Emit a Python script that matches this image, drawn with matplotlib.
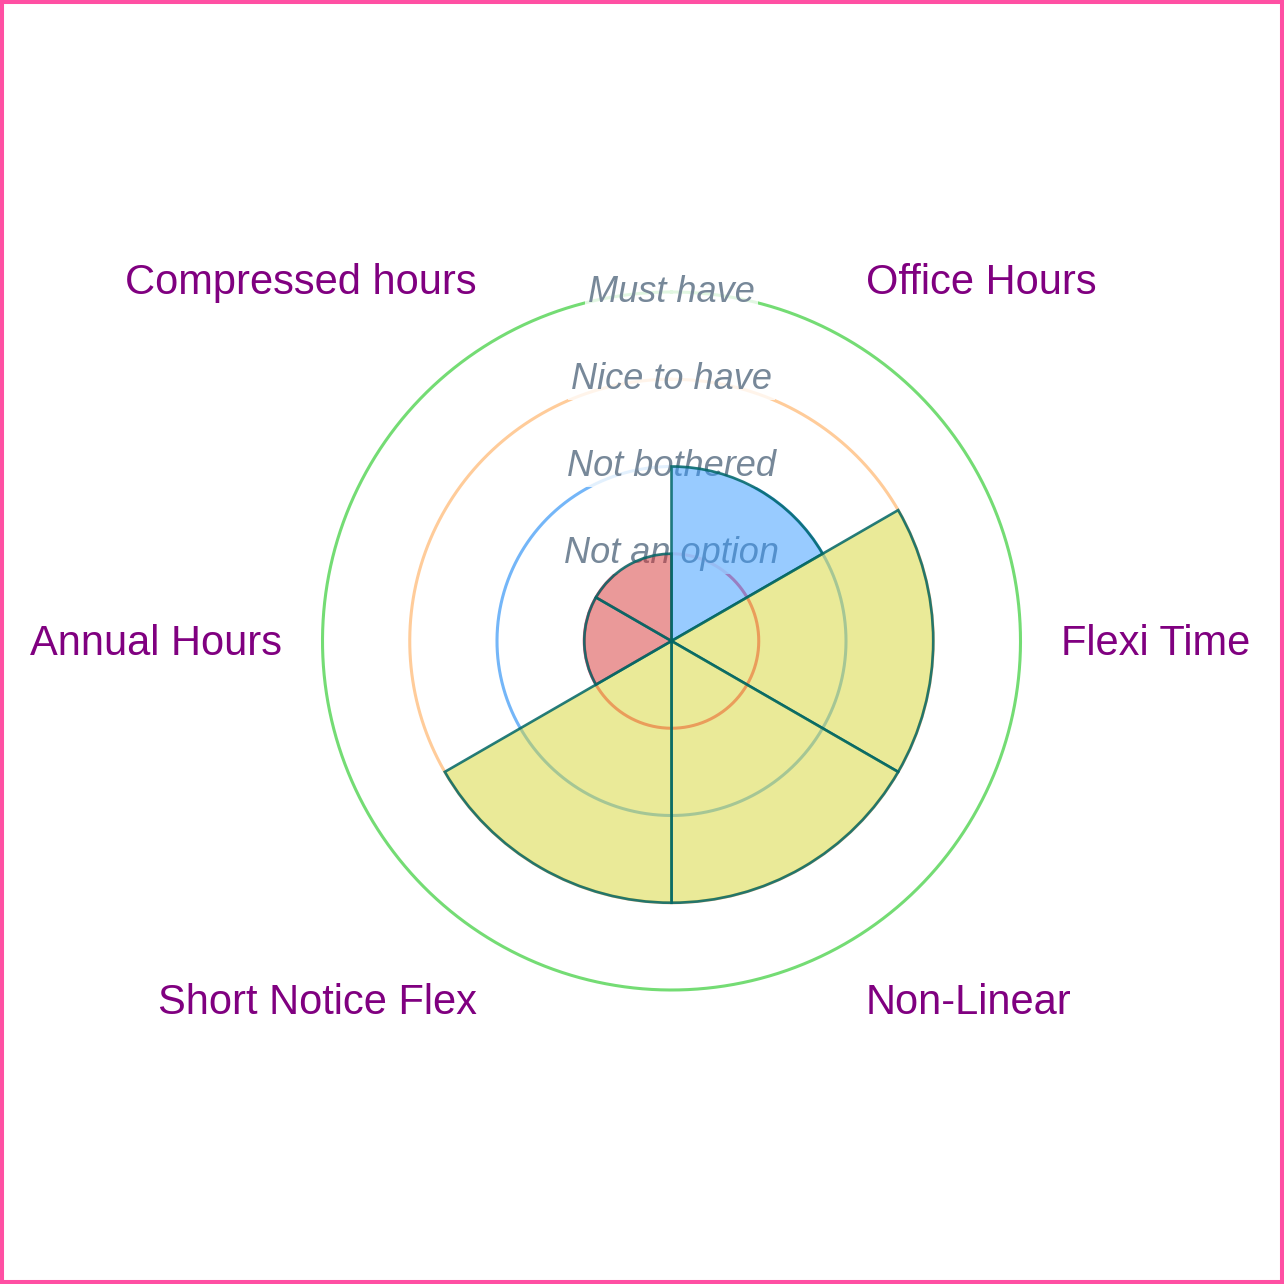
import numpy as np
import matplotlib
matplotlib.use("Agg")
import matplotlib.pyplot as plt
from matplotlib.patches import Rectangle

# ---- data ----
categories = ['Office Hours', 'Flexi Time', 'Non-Linear', 'Short Notice Flex',
              'Annual Hours', 'Compressed hours']
values = [2, 3, 3, 3, 1, 1]
fill_colors = [(0.2, 0.6, 1.0, 0.5), (0.843, 0.843, 0.2, 0.5), (0.843, 0.843, 0.2, 0.5),
               (0.843, 0.843, 0.2, 0.5), (0.843, 0.208, 0.208, 0.5), (0.843, 0.208, 0.208, 0.5)]
ring_values = [1, 2, 3, 4]
ring_labels = ['Not an option', 'Not bothered', 'Nice to have', 'Must have']
ring_colors = ['#ff6384', '#74b6f8', '#ffcc9a', '#74dc74']

plt.rcParams['font.family'] = ['Liberation Sans', 'DejaVu Sans']

W = 1284
fig = plt.figure(figsize=(W / 100, W / 100), dpi=100)
fig.patch.set_facecolor('white')

cx, cy, rad = 671.5 / W, 1 - 641 / W, 349 / W
ax = fig.add_axes([cx - rad, cy - rad, 2 * rad, 2 * rad], projection='polar')
ax.set_theta_zero_location('N')
ax.set_theta_direction(-1)
ax.set_ylim(0, 4)
ax.set_xticks([])
ax.set_yticks([])
ax.grid(False)
ax.spines['polar'].set_visible(False)
ax.patch.set_alpha(0)

n = len(categories)
step = 2 * np.pi / n
starts = np.arange(n) * step

# rings
tt = np.linspace(0, 2 * np.pi, 720)
for r, col in zip(ring_values, ring_colors):
    ax.plot(tt, np.full_like(tt, r), color=col, lw=2.2, zorder=1, clip_on=False)

# ring labels
for r, lab in zip(ring_values, ring_labels):
    ax.text(0, r, lab, ha='center', va='center', fontsize=26, style='italic',
            color='#778899', zorder=1.5, clip_on=False,
            bbox=dict(boxstyle='square,pad=0.08', fc=(1, 1, 1, 0.8), ec='none'))

# sectors
ax.bar(starts, values, width=step, align='edge', color=fill_colors,
       edgecolor=(0.0, 0.4, 0.4, 0.85), linewidth=1.9, zorder=2)

# category labels
for i, lab in enumerate(categories):
    ang = starts[i] + step / 2
    s, c = np.sin(ang), np.cos(ang)
    ha = 'left' if s > 0.01 else ('right' if s < -0.01 else 'center')
    dy = 21 if c > 0.01 else (-25 if c < -0.01 else -3)
    ax.annotate(lab, xy=(ang, 4.46), xycoords='data', xytext=(0, dy),
                textcoords='offset pixels', ha=ha, va='center', fontsize=30,
                color='#800080', annotation_clip=False)

fig.patches.append(Rectangle((0, 0), 1, 1, transform=fig.transFigure, fill=False,
                             ec='#ff4fa3', lw=5.8, zorder=10))

fig.savefig('out.png', dpi=100, facecolor='white')
